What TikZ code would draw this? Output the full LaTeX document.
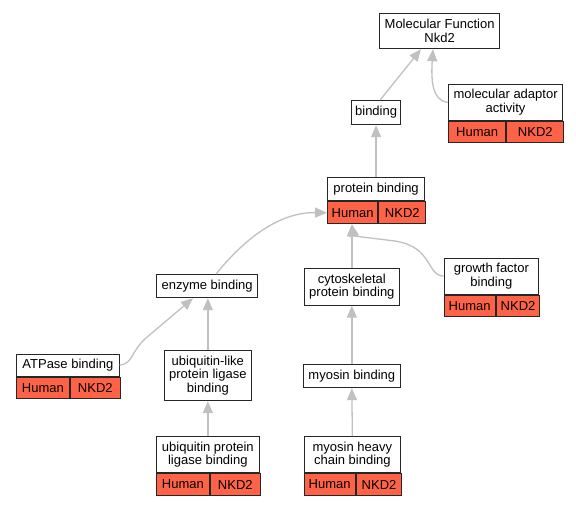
\documentclass[tikz,border=0pt]{standalone}
\usepackage{fontspec}
\setmainfont{Liberation Sans}
\usetikzlibrary{arrows.meta,calc}
\definecolor{tomatored}{HTML}{FF6347}
\definecolor{edgegray}{HTML}{C0C0C0}
\begin{document}
\begin{tikzpicture}[x=1pt,y=-1pt,
  lbl/.style={draw=black!85, line width=1.2pt, fill=white, inner sep=0pt, align=center, anchor=north west, font=\fontsize{13}{13.5}\selectfont},
  cell/.style={lbl, fill=tomatored},
  edge/.style={draw=edgegray, line width=1.3pt, -{Triangle[length=12pt,width=10pt,fill=edgegray]}}]
\useasboundingbox (0,0) rectangle (576,504);
% nodes
\node[lbl, minimum width=120pt, minimum height=35pt] (mf) at (379,13) {Molecular Function\\Nkd2};
\node[lbl, minimum width=49pt, minimum height=24pt] (bind) at (351,100) {binding};
\node[lbl, minimum width=114pt, minimum height=35.5pt] (adL) at (448,84) {molecular adaptor\\activity};
\node[cell, minimum width=57pt, minimum height=21.5pt] (adH) at (adL.south west) {Human};
\node[cell, minimum width=57pt, minimum height=21.5pt] (adN) at (adH.north east) {NKD2};
\node[lbl, minimum width=97pt, minimum height=23pt] (pbL) at (327,177) {protein binding};
\node[cell, minimum width=50pt, minimum height=22pt] (pbH) at (pbL.south west) {Human};
\node[cell, minimum width=47pt, minimum height=22pt] (pbN) at (pbH.north east) {NKD2};
\node[lbl, minimum width=94.5pt, minimum height=36pt] (gfL) at (443.5,257.5) {growth factor\\binding};
\node[cell, minimum width=51pt, minimum height=21.5pt] (gfH) at (gfL.south west) {Human};
\node[cell, minimum width=43.5pt, minimum height=21.5pt] (gfN) at (gfH.north east) {NKD2};
\node[lbl, minimum width=95.5pt, minimum height=36.5pt] (cyto) at (303.5,268) {cytoskeletal\\protein binding};
\node[lbl, minimum width=101pt, minimum height=23pt] (enz) at (156,274) {enzyme binding};
\node[lbl, minimum width=102.5pt, minimum height=22pt] (atL) at (16,353.5) {ATPase binding};
\node[cell, minimum width=52.5pt, minimum height=21.5pt] (atH) at (atL.south west) {Human};
\node[cell, minimum width=50pt, minimum height=21.5pt] (atN) at (atH.north east) {NKD2};
\node[lbl, minimum width=87.5pt, minimum height=50pt] (ubl) at (163.5,350) {ubiquitin-like\\protein ligase\\binding};
\node[lbl, minimum width=97.5pt, minimum height=23.5pt] (myo) at (302.5,363.5) {myosin binding};
\node[lbl, minimum width=102.5pt, minimum height=36pt] (upL) at (156,436) {ubiquitin protein\\ligase binding};
\node[cell, minimum width=52.5pt, minimum height=21.5pt] (upH) at (upL.south west) {Human};
\node[cell, minimum width=50pt, minimum height=21.5pt] (upN) at (upH.north east) {NKD2};
\node[lbl, minimum width=96.5pt, minimum height=36pt] (mhL) at (303.5,436) {myosin heavy\\chain binding};
\node[cell, minimum width=51pt, minimum height=21.5pt] (mhH) at (mhL.south west) {Human};
\node[cell, minimum width=45.5pt, minimum height=21.5pt] (mhN) at (mhH.north east) {NKD2};
% edges
\draw[edge] ($(bind.north)+(4,0)$) -- ($(mf.south west)+(42,0)$);
\draw[edge] (adL.west) .. controls (432,101) and (431,80) .. ($(mf.south west)+(54,0)$);
\draw[edge] (pbL.north) -- (bind.south);
\draw[edge] ($(enz.north)+(9,0)$) .. controls (245,238) and (280,212) .. (pbH.west);
\draw[edge] (cyto.north) -- (cyto.north |- pbH.south);
\draw[edge] (gfL.west) .. controls (426,275) and (433,247) .. (395,241) .. controls (362,237) and (354,236) .. ($(pbH.south west)+(25,0)$);
\draw[edge] (atL.east) .. controls (133,364) and (131,351) .. (146,338) -- ($(enz.south west)+(37,0)$);
\draw[edge] (ubl.north) -- (ubl.north |- enz.south);
\draw[edge] (upL.north) -- (ubl.south);
\draw[edge] (myo.north) -- (myo.north |- cyto.south);
\draw[edge] (mhL.north) -- (myo.south);
\end{tikzpicture}
\end{document}
